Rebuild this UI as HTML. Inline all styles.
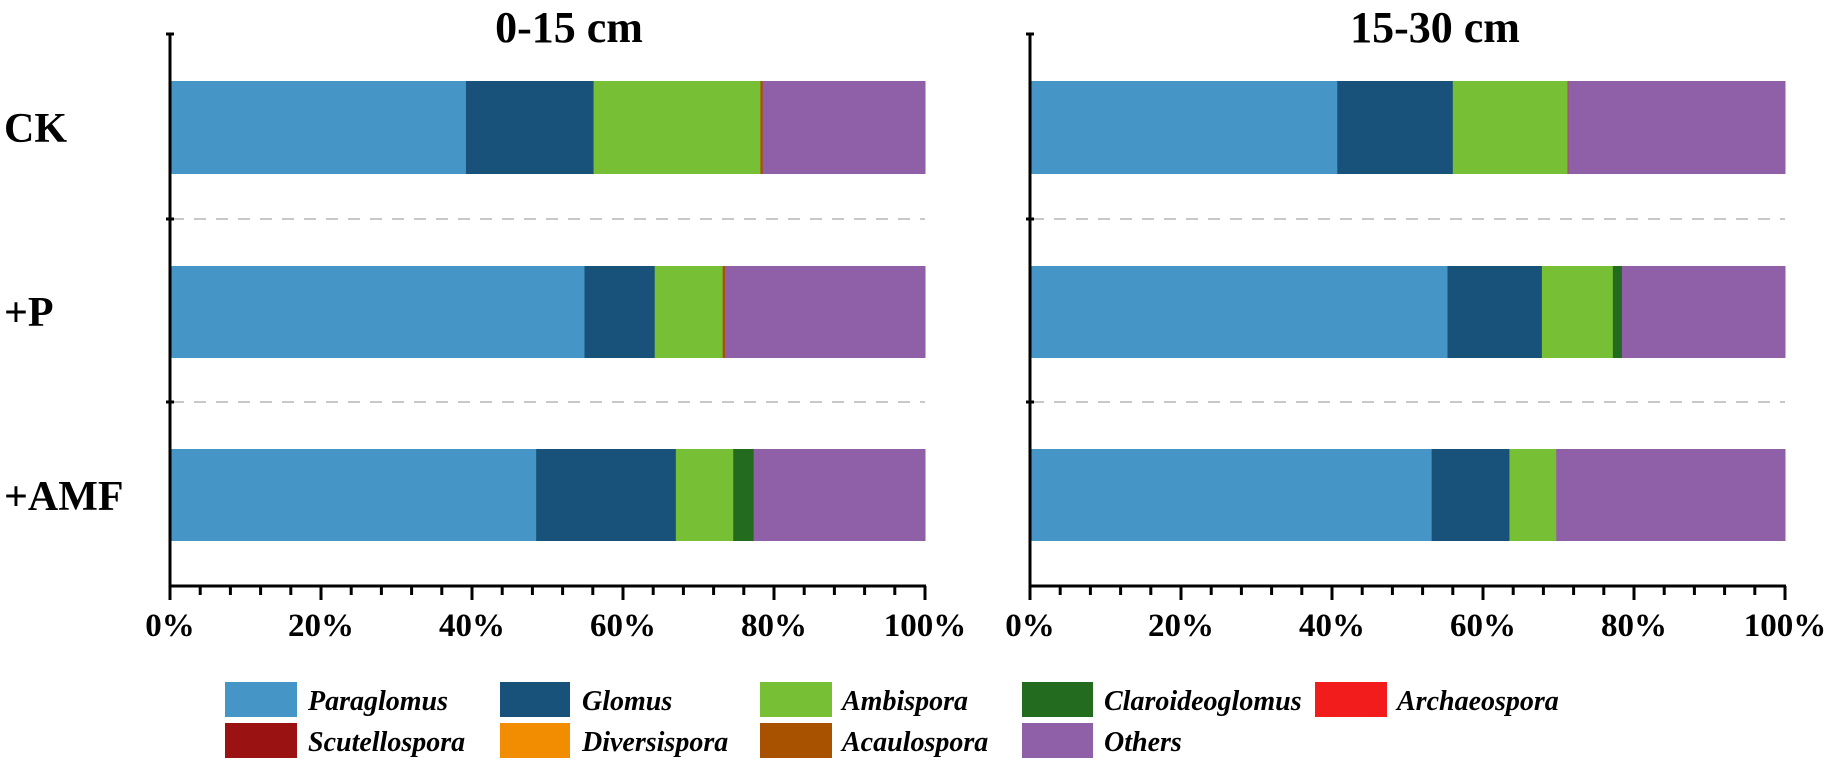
<!DOCTYPE html>
<html><head><meta charset="utf-8"><style>
html,body{margin:0;padding:0;background:#fff;}
svg{display:block;}
text{font-family:"Liberation Serif",serif;font-weight:bold;fill:#000;}
.lg{font-style:italic;font-size:28px;}
</style></head><body>
<svg width="1831" height="766" viewBox="0 0 1831 766" xmlns="http://www.w3.org/2000/svg">
<g id="titles">
<text x="569" y="42" font-size="44" text-anchor="middle">0-15 cm</text>
<text x="1435" y="42" font-size="44" text-anchor="middle">15-30 cm</text>
<text x="4" y="142" font-size="42">CK</text>
<text x="4" y="326" font-size="42">+P</text>
<text x="4" y="510" font-size="42">+AMF</text>
</g>
<!-- dashed separators -->
<g stroke="#c8c8c8" stroke-width="2" stroke-dasharray="12,10">
<line x1="172" y1="219" x2="925" y2="219"/><line x1="172" y1="402" x2="925" y2="402"/>
<line x1="1032" y1="219" x2="1785" y2="219"/><line x1="1032" y1="402" x2="1785" y2="402"/>
</g>
<g id="bars"></g>
<g id="axes" stroke="#000" stroke-width="3" fill="none"></g>
<g id="ticks"></g>
<!-- legend -->
<g>
<rect x="225" y="682" width="72" height="35" fill="#4596c6"/><text class="lg" x="308" y="710">Paraglomus</text>
<rect x="500" y="682" width="70" height="35" fill="#18527a"/><text class="lg" x="582" y="710">Glomus</text>
<rect x="760" y="682" width="72" height="35" fill="#77bf34"/><text class="lg" x="842" y="710">Ambispora</text>
<rect x="1022" y="682" width="71" height="35" fill="#236b1f"/><text class="lg" x="1104" y="710">Claroideoglomus</text>
<rect x="1315" y="682" width="72" height="35" fill="#f21c1c"/><text class="lg" x="1397" y="710">Archaeospora</text>
<rect x="225" y="723" width="72" height="35" fill="#9a1212"/><text class="lg" x="308" y="751">Scutellospora</text>
<rect x="500" y="723" width="70" height="35" fill="#f28c00"/><text class="lg" x="582" y="751">Diversispora</text>
<rect x="760" y="723" width="72" height="35" fill="#a85200"/><text class="lg" x="842" y="751">Acaulospora</text>
<rect x="1022" y="723" width="71" height="35" fill="#8f5fa8"/><text class="lg" x="1104" y="751">Others</text>
</g>
</svg>
<script>
(function(){
var NS="http://www.w3.org/2000/svg";
var cols=["#4596c6","#18527a","#77bf34","#236b1f","#a85200","#8f5fa8"];
var panels=[170,1030],W=755;
var rows=[[81,93],[266,92],[449,92]];
// cumulative ends: para, glomus, ambi, claro, acaulo, others
var data=[
 [[.392,.561,.782,.782,.785,1],[.549,.642,.732,.732,.735,1],[.485,.670,.746,.773,.773,1]],
 [[.407,.560,.712,.712,.713,1],[.553,.678,.772,.784,.784,1],[.532,.635,.697,.697,.697,1]]
];
var bars=document.getElementById("bars"),ax=document.getElementById("axes"),tk=document.getElementById("ticks");
function el(n,a,p){var e=document.createElementNS(NS,n);for(var k in a)e.setAttribute(k,a[k]);p.appendChild(e);return e;}
panels.forEach(function(x0,p){
 rows.forEach(function(r,i){
  var prev=0;
  data[p][i].forEach(function(v,j){
   if(v>prev){el("rect",{x:x0+prev*W,y:r[0],width:(v-prev)*W+0.5,height:r[1],fill:cols[j]},bars);}
   prev=v;
  });
 });
 el("line",{x1:x0,y1:34,x2:x0,y2:587},ax);
 el("line",{x1:x0-1,y1:586,x2:x0+W+1,y2:586},ax);
 [34,219,402].forEach(function(y){el("line",{x1:x0-4,y1:y,x2:x0+4,y2:y},ax);});
 for(var k=0;k<=25;k++){
  var x=x0+k*W/25,maj=(k%5==0);
  el("line",{x1:x,y1:586,x2:x,y2:maj?600:595,stroke:"#000","stroke-width":3},tk);
  if(maj){var t=el("text",{x:x,y:636,"font-size":33,"text-anchor":"middle"},tk);t.textContent=(k*4)+"%";}
 }
});
})();
</script>
</body></html>
